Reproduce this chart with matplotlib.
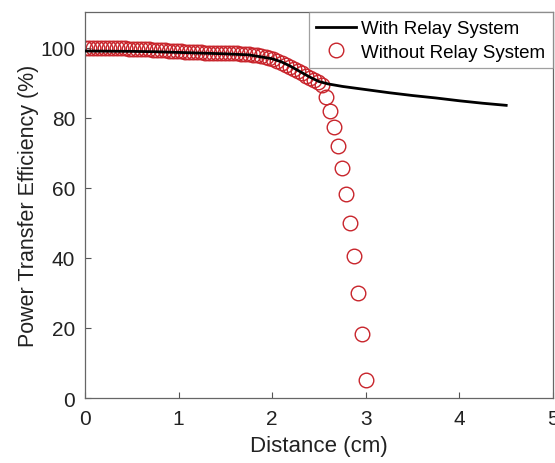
import matplotlib
matplotlib.use("Agg")
import matplotlib.pyplot as plt

plt.rcParams["font.family"] = ["Liberation Sans", "DejaVu Sans"]

# With relay system (solid line)
relay_x = [0.0, 0.25, 0.5, 0.75, 1.0, 1.25, 1.5, 1.75, 2.0, 2.1, 2.2, 2.3, 2.4,
           2.5, 2.6, 2.75, 3.0, 3.25, 3.5, 3.75, 4.0, 4.25, 4.5]
relay_y = [99.0, 98.95, 98.9, 98.8, 98.6, 98.4, 98.2, 97.9, 96.8, 95.9, 94.6, 93.1, 91.6,
           90.3, 89.6, 88.9, 88.0, 87.1, 86.3, 85.6, 84.8, 84.1, 83.5]

# Without relay system (circles)
norelay_x = [0.0, 0.043, 0.086, 0.129, 0.171, 0.214, 0.257, 0.3, 0.343, 0.386,
             0.429, 0.471, 0.514, 0.557, 0.6, 0.643, 0.686, 0.729, 0.771, 0.814,
             0.857, 0.9, 0.943, 0.986, 1.029, 1.071, 1.114, 1.157, 1.2, 1.243,
             1.286, 1.329, 1.371, 1.414, 1.457, 1.5, 1.543, 1.586, 1.629, 1.671,
             1.714, 1.757, 1.8, 1.843, 1.886, 1.929, 1.971, 2.014, 2.057, 2.1,
             2.143, 2.186, 2.229, 2.271, 2.314, 2.357, 2.4, 2.443, 2.486, 2.529,
             2.571, 2.614, 2.657, 2.7, 2.743, 2.786, 2.829, 2.871, 2.914, 2.957, 3.0]
norelay_y = [100.0, 100.0, 100.0, 100.0, 99.95, 99.9, 99.9, 99.85, 99.8, 99.8,
             99.75, 99.7, 99.7, 99.6, 99.55, 99.5, 99.45, 99.4, 99.3, 99.25,
             99.2, 99.1, 99.05, 99.0, 98.9, 98.85, 98.8, 98.7, 98.65, 98.6,
             98.55, 98.5, 98.45, 98.4, 98.4, 98.35, 98.3, 98.3, 98.3, 98.25,
             98.2, 98.1, 98.0, 97.8, 97.6, 97.3, 97.0, 96.6, 96.1, 95.6,
             95.0, 94.4, 93.8, 93.2, 92.6, 92.0, 91.4, 90.8, 90.2, 89.3,
             86.0, 82.0, 77.3, 72.0, 65.5, 58.1, 49.9, 40.4, 30.0, 18.2, 5.2]

x_ticks = [0, 1, 2, 3, 4, 5]
y_ticks = [0, 20, 40, 60, 80, 100]

fig = plt.figure(figsize=(5.55, 4.64), dpi=100)
ax = fig.add_axes([0.153, 0.14, 0.8434, 0.831])

ax.plot(relay_x, relay_y, color="black", linewidth=2.0, label="With Relay System", zorder=3)
ax.plot(norelay_x, norelay_y, linestyle="none", marker="o", markersize=10.5,
        markerfacecolor="none", markeredgecolor="#c8242b", markeredgewidth=1.0,
        label="Without Relay System", zorder=2)

ax.set_xlim(0, 5)
ax.set_ylim(0, 110)
ax.set_xticks(x_ticks)
ax.set_yticks(y_ticks)
ax.tick_params(direction="in", length=4, width=0.8, color="#555555", labelsize=15,
               labelcolor="#222222")
ax.tick_params(axis="x", pad=8)
ax.tick_params(axis="y", pad=7)
for spine in ax.spines.values():
    spine.set_color("#666666")
    spine.set_linewidth(0.9)

ax.set_xlabel("Distance (cm)", fontsize=16, color="#222222", labelpad=5)
ax.set_ylabel("Power Transfer Efficiency (%)", fontsize=15.5, color="#222222", labelpad=1)

leg = ax.legend(loc="upper right", bbox_to_anchor=(1.0, 1.0), borderaxespad=0,
                fontsize=13.5, fancybox=False, edgecolor="#888888", handlelength=2.1,
                handletextpad=0.3, labelspacing=0.35, borderpad=0.4)
leg.get_frame().set_linewidth(0.9)

fig.savefig("out.png", dpi=100, facecolor="white")
plt.close(fig)
